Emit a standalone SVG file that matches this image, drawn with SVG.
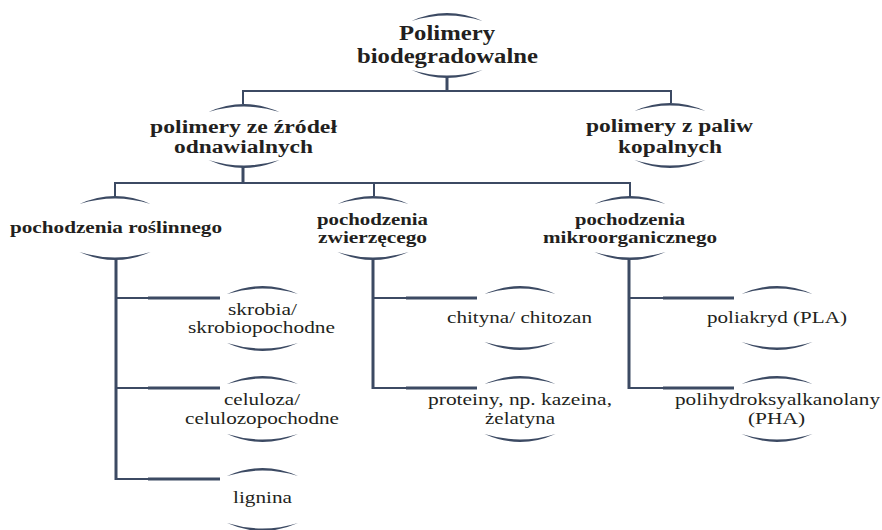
<svg xmlns="http://www.w3.org/2000/svg" width="882" height="530" viewBox="0 0 882 530">
<style>
.t{font-family:"Liberation Serif","Times New Roman",serif;fill:#231f20;text-anchor:middle}
.b{font-weight:bold}
.r{font-size:16.5px}
.ln{stroke:#3c4a63;fill:none;stroke-linecap:butt}
.arc{fill:#3c4a63}
</style>
<defs>
<path id="up" d="M-35.5,0 Q0,-16 35.5,0 Q0,-11 -35.5,0 Z"/>
<path id="dn" d="M-35.5,0 Q0,16 35.5,0 Q0,11 -35.5,0 Z"/>
</defs>
<rect width="882" height="530" fill="#fff"/>
<g id="connectors">
<path class="ln" stroke-width="3" d="M447,77 V90"/>
<path class="ln" stroke-width="2" d="M243,91 H671 M243,90 V104 M671,90 V103"/>
<path class="ln" stroke-width="3" d="M243,167 V183"/>
<path class="ln" stroke-width="2" d="M115,183 H630 M115,182 V196 M374,182 V196 M630,182 V196"/>
<path class="ln" stroke-width="3" d="M116,259 V480 M373,259 V389 M629,259 V389"/>
<path class="ln" stroke-width="2" d="M116,298 H148 M116,388 H148 M116,479 H148 M373,298 H406 M373,388 H406 M629,298 H663 M629,388 H663"/>
<path class="ln" stroke-width="3" d="M148,298 H220 M148,388 H220 M148,479 H220 M406,298 H477 M406,388 H477 M663,298 H734 M663,388 H734"/>
</g>
<g id="n-root">
<use href="#up" class="arc" transform="translate(447,21)"/>
<use href="#dn" class="arc" transform="translate(447,70)"/>
<text class="t b" font-size="20" x="447" y="40" textLength="96" lengthAdjust="spacingAndGlyphs">Polimery</text>
<text class="t b" font-size="20" x="447.5" y="63" textLength="181" lengthAdjust="spacingAndGlyphs">biodegradowalne</text>
</g>
<g id="n-odnawialne">
<use href="#up" class="arc" transform="translate(244,112)"/>
<use href="#dn" class="arc" transform="translate(244,160)"/>
<text class="t b" font-size="18" x="243.5" y="133" textLength="187" lengthAdjust="spacingAndGlyphs">polimery ze źródeł</text>
<text class="t b" font-size="18" x="243.5" y="153" textLength="139" lengthAdjust="spacingAndGlyphs">odnawialnych</text>
</g>
<g id="n-kopalne">
<use href="#up" class="arc" transform="translate(670,111)"/>
<use href="#dn" class="arc" transform="translate(670,160)"/>
<text class="t b" font-size="18" x="669.5" y="132" textLength="167" lengthAdjust="spacingAndGlyphs">polimery z paliw</text>
<text class="t b" font-size="18" x="670" y="153" textLength="104" lengthAdjust="spacingAndGlyphs">kopalnych</text>
</g>
<g id="n-roslinne">
<use href="#up" class="arc" transform="translate(115,204)"/>
<use href="#dn" class="arc" transform="translate(115,252)"/>
<text class="t b" font-size="17" x="116" y="233" textLength="212" lengthAdjust="spacingAndGlyphs">pochodzenia roślinnego</text>
</g>
<g id="n-zwierzece">
<use href="#up" class="arc" transform="translate(373,204)"/>
<use href="#dn" class="arc" transform="translate(373,252)"/>
<text class="t b" font-size="16.5" x="372.5" y="224.5" textLength="111" lengthAdjust="spacingAndGlyphs">pochodzenia</text>
<text class="t b" font-size="16.5" x="372.5" y="243" textLength="109" lengthAdjust="spacingAndGlyphs">zwierzęcego</text>
</g>
<g id="n-mikro">
<use href="#up" class="arc" transform="translate(630,204)"/>
<use href="#dn" class="arc" transform="translate(630,252)"/>
<text class="t b" font-size="16.5" x="630" y="224.5" textLength="110" lengthAdjust="spacingAndGlyphs">pochodzenia</text>
<text class="t b" font-size="16.5" x="630" y="243" textLength="174" lengthAdjust="spacingAndGlyphs">mikroorganicznego</text>
</g>
<g id="n-skrobia">
<use href="#up" class="arc" transform="translate(262.5,294)"/>
<use href="#dn" class="arc" transform="translate(262.5,343)"/>
<text class="t r" x="262.5" y="315" textLength="69" lengthAdjust="spacingAndGlyphs">skrobia/</text>
<text class="t r" x="261.5" y="333" textLength="147" lengthAdjust="spacingAndGlyphs">skrobiopochodne</text>
</g>
<g id="n-celuloza">
<use href="#up" class="arc" transform="translate(262.5,384)"/>
<use href="#dn" class="arc" transform="translate(262.5,434)"/>
<text class="t r" x="262" y="405" textLength="76" lengthAdjust="spacingAndGlyphs">celuloza/</text>
<text class="t r" x="262" y="424" textLength="154" lengthAdjust="spacingAndGlyphs">celulozopochodne</text>
</g>
<g id="n-lignina">
<use href="#up" class="arc" transform="translate(262.5,476)"/>
<use href="#dn" class="arc" transform="translate(262.5,523)"/>
<text class="t r" x="262.5" y="503" textLength="59" lengthAdjust="spacingAndGlyphs">lignina</text>
</g>
<g id="n-chityna">
<use href="#up" class="arc" transform="translate(520,294)"/>
<use href="#dn" class="arc" transform="translate(520,342)"/>
<text class="t r" x="519.5" y="323" textLength="145" lengthAdjust="spacingAndGlyphs">chityna/ chitozan</text>
</g>
<g id="n-proteiny">
<use href="#up" class="arc" transform="translate(520,384)"/>
<use href="#dn" class="arc" transform="translate(520,434)"/>
<text class="t r" x="520" y="405" textLength="184" lengthAdjust="spacingAndGlyphs">proteiny, np. kazeina,</text>
<text class="t r" x="520" y="424" textLength="70" lengthAdjust="spacingAndGlyphs">żelatyna</text>
</g>
<g id="n-pla">
<use href="#up" class="arc" transform="translate(777,294)"/>
<use href="#dn" class="arc" transform="translate(777,342)"/>
<text class="t r" x="777" y="323" textLength="140" lengthAdjust="spacingAndGlyphs">poliakryd (PLA)</text>
</g>
<g id="n-pha">
<use href="#up" class="arc" transform="translate(777,384)"/>
<use href="#dn" class="arc" transform="translate(777,434)"/>
<text class="t r" x="777.5" y="405" textLength="205" lengthAdjust="spacingAndGlyphs">polihydroksyalkanolany</text>
<text class="t r" x="776.5" y="424" textLength="57" lengthAdjust="spacingAndGlyphs">(PHA)</text>
</g>
</svg>
